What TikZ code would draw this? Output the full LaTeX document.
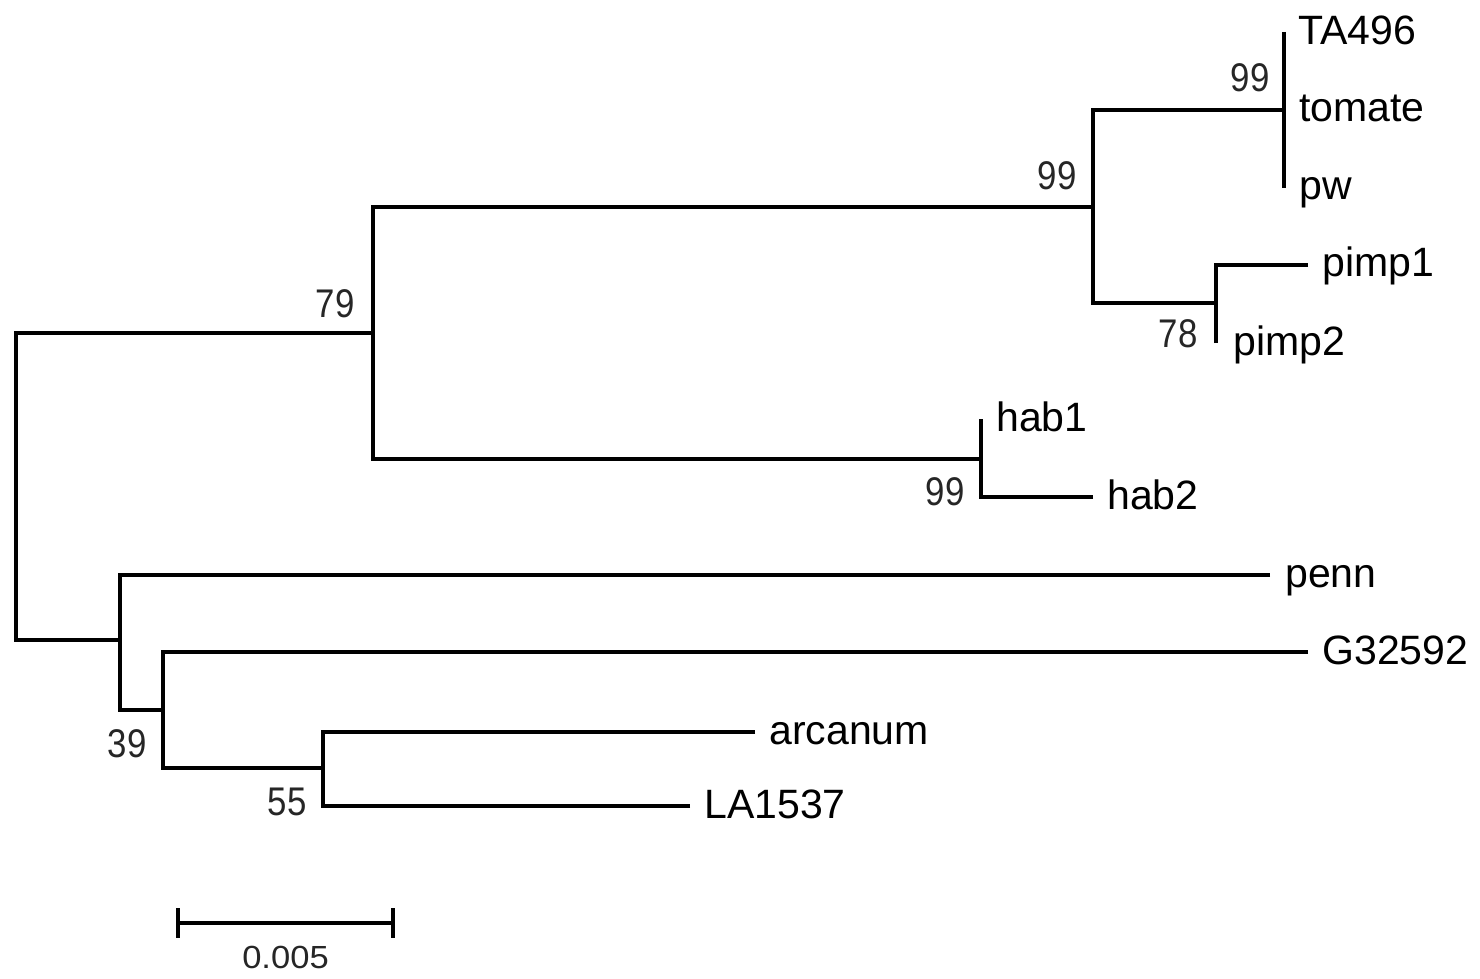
\documentclass[tikz,border=0pt]{standalone}
\usepackage{fontspec}
\setmainfont{Liberation Sans}
\newfontfamily\bsfont[FakeStretch=0.87]{Liberation Sans}
\newfontfamily\scfont[FakeStretch=1.08]{Liberation Sans}
\begin{document}
\begin{tikzpicture}[x=0.5pt,y=-0.5pt,
  br/.style={line width=2.1pt,line join=miter},
  taxon/.style={anchor=base west,inner sep=0pt,font=\fontsize{20.5pt}{24pt}\selectfont},
  boot/.style={anchor=base east,inner sep=0pt,font=\bsfont\fontsize{20pt}{24pt}\selectfont,text=black!85},
  scalelbl/.style={anchor=base,inner sep=0pt,font=\scfont\fontsize{16pt}{18pt}\selectfont,text=black!85}]
\useasboundingbox (0,0) rectangle (1480,979);
% internal nodes
\coordinate (r) at (16,486);
\coordinate (n79) at (373,333);
\coordinate (n99b) at (1093,207);
\coordinate (n99a) at (1284,110);
\coordinate (n78) at (1216,303);
\coordinate (nhab) at (981,459);
\coordinate (nL) at (120,640);
\coordinate (n39) at (163,710);
\coordinate (n55) at (323,768);
% tips
\coordinate (tTA) at (1284,32);
\coordinate (tTom) at (1284,110);
\coordinate (tPw) at (1284,188);
\coordinate (tP1) at (1308,265);
\coordinate (tP2) at (1216,343);
\coordinate (tH1) at (981,419);
\coordinate (tH2) at (1093,497);
\coordinate (tPenn) at (1270,575);
\coordinate (tG) at (1308,652);
\coordinate (tArc) at (755,732);
\coordinate (tLA) at (690,806);
% branches
\draw[br] (n79) -| (r);
\draw[br] (nL) -| (r);
\draw[br] (n99b) -| (n79);
\draw[br] (nhab) -| (n79);
\draw[br] (n99a) -| (n99b);
\draw[br] (n78) -| (n99b);
\draw[br] (tTA) -- (n99a);
\draw[br] (tPw) -- (n99a);
\draw[br] (tP1) -| (n78);
\draw[br] (tP2) -- (n78);
\draw[br] (tH1) -- (nhab);
\draw[br] (tH2) -| (nhab);
\draw[br] (tPenn) -| (nL);
\draw[br] (n39) -| (nL);
\draw[br] (tG) -| (n39);
\draw[br] (n55) -| (n39);
\draw[br] (tArc) -| (n55);
\draw[br] (tLA) -| (n55);
% taxa labels
\node[taxon] (lTA) at (1298,45) {TA496};
\node[taxon] (lTom) at (1299,122) {tomate};
\node[taxon] (lPw) at (1299,199) {pw};
\node[taxon] (lP1) at (1322,277) {pimp1};
\node[taxon] (lP2) at (1233,355) {pimp2};
\node[taxon] (lH1) at (996,431) {hab1};
\node[taxon] (lH2) at (1107,509) {hab2};
\node[taxon] (lPenn) at (1285,587) {penn};
\node[taxon] (lG) at (1322,664) {G32592};
\node[taxon] (lArc) at (769,744) {arcanum};
\node[taxon] (lLA) at (704,818) {LA1537};
% bootstrap values
\node[boot] (b99a) at (1270,92) {99};
\node[boot] (b99b) at (1077,190) {99};
\node[boot] (b79) at (355,317) {79};
\node[boot] (b78) at (1198,348) {78};
\node[boot] (b99h) at (965,505) {99};
\node[boot] (b39) at (147,757) {39};
\node[boot] (b55) at (307,815) {55};
% scale bar
\coordinate (sb1) at (178,923);
\coordinate (sb2) at (393,923);
\draw[br] (sb1) -- (sb2);
\draw[br] ([yshift=7.5pt]sb1) -- ([yshift=-7.5pt]sb1);
\draw[br] ([yshift=7.5pt]sb2) -- ([yshift=-7.5pt]sb2);
\node[scalelbl] (sbl) at (285.5,968) {0.005};
\end{tikzpicture}
\end{document}
